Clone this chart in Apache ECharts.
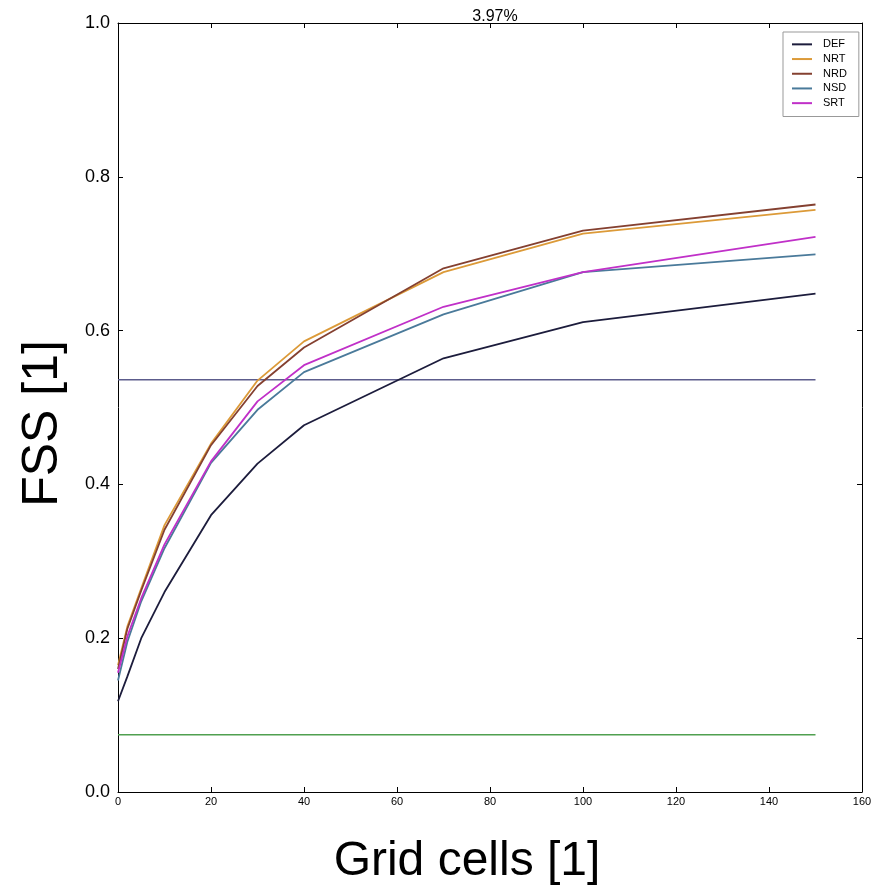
<!DOCTYPE html>
<html>
<head>
<meta charset="utf-8">
<script src="https://cdn.jsdelivr.net/npm/echarts@6/dist/echarts.min.js"></script>
<style>
html,body{margin:0;padding:0;background:#fff;}
#c{width:886px;height:885px;}
</style>
</head>
<body>
<div id="c"></div>
<script>
const gridCells = [0, 2, 5, 10, 20, 30, 40, 70, 100, 150];
const DEF = [0.118, 0.150, 0.200, 0.260, 0.360, 0.427, 0.477, 0.564, 0.611, 0.648];
const NRT = [0.165, 0.215, 0.265, 0.347, 0.453, 0.535, 0.586, 0.676, 0.726, 0.757];
const NRD = [0.160, 0.212, 0.262, 0.341, 0.451, 0.528, 0.578, 0.681, 0.730, 0.764];
const NSD = [0.145, 0.195, 0.248, 0.317, 0.428, 0.497, 0.546, 0.621, 0.676, 0.699];
const SRT = [0.155, 0.202, 0.252, 0.322, 0.430, 0.508, 0.555, 0.631, 0.676, 0.722];
const refLevels = [0.536, 0.0745];
const refRange = [0, 150];
const xTicks = [0, 20, 40, 60, 80, 100, 120, 140, 160];
const yTicks = [0.0, 0.2, 0.4, 0.6, 0.8, 1.0];
const titleText = '3.97%';

const names = ['DEF', 'NRT', 'NRD', 'NSD', 'SRT'];
const values = [DEF, NRT, NRD, NSD, SRT];
const colors = ['#1c1c3c', '#dc9a38', '#844030', '#4a7a9a', '#c030c8'];
const refColors = ['#5c5c8c', '#50a050'];

const series = names.map((n, i) => ({
  name: n, type: 'line', showSymbol: false, symbol: 'none',
  data: gridCells.map((x, j) => [x, values[i][j]]),
  lineStyle: { width: 1.8, color: colors[i] }, itemStyle: { color: colors[i] },
  z: 3 + i
}));
refLevels.forEach((v, i) => series.push({
  name: 'ref' + i, type: 'line', showSymbol: false, symbol: 'none',
  data: refRange.map(x => [x, v]),
  lineStyle: { width: 1.4, color: refColors[i] }, itemStyle: { color: refColors[i] },
  z: 2
}));

const chart = echarts.init(document.getElementById('c'), null, { renderer: 'canvas' });
const axisLine = { show: true, onZero: false, lineStyle: { color: '#000', width: 1 } };
chart.setOption({
  animation: false,
  backgroundColor: '#fff',
  title: {
    text: titleText, left: 490, top: 4, textAlign: 'center',
    textStyle: { fontFamily: 'Liberation Sans', fontSize: 16, fontWeight: 'normal', color: '#000' }
  },
  legend: {
    data: names, orient: 'vertical', left: 783, top: 32,
    icon: 'rect', itemWidth: 20, itemHeight: 2, itemGap: 0,
    padding: [5, 12, 6, 9],
    borderColor: '#999', borderWidth: 1, backgroundColor: '#fff',
    textStyle: { fontFamily: 'Liberation Sans', fontSize: 11, lineHeight: 14.7, color: '#000', padding: [0, 0, 0, 6] }
  },
  grid: { left: 118, right: 24, top: 23, bottom: 93, containLabel: false, outerBoundsMode: 'none' },
  xAxis: [{
    type: 'value', min: xTicks[0], max: xTicks[xTicks.length - 1], interval: xTicks[1] - xTicks[0],
    name: 'Grid cells [1]', nameLocation: 'middle', nameGap: 46,
    nameTextStyle: { fontFamily: 'Liberation Sans', fontSize: 48, color: '#000', padding: [0, 46, 0, 0] },
    axisLine: axisLine,
    axisTick: { show: true, inside: true, length: 5, lineStyle: { color: '#000' } },
    axisLabel: { fontFamily: 'Liberation Sans', fontSize: 11, color: '#000', margin: 4 },
    splitLine: { show: false }
  }, {
    type: 'value', position: 'top', min: xTicks[0], max: xTicks[xTicks.length - 1], interval: xTicks[1] - xTicks[0],
    axisLine: axisLine,
    axisTick: { show: true, inside: true, length: 5, lineStyle: { color: '#000' } },
    axisLabel: { show: false }, splitLine: { show: false }
  }],
  yAxis: [{
    type: 'value', min: yTicks[0], max: yTicks[yTicks.length - 1], interval: 0.2,
    name: 'FSS [1]', nameLocation: 'middle', nameGap: 50,
    nameTextStyle: { fontFamily: 'Liberation Sans', fontSize: 50, color: '#000', padding: [0, 32, 0, 0] },
    axisLine: axisLine,
    axisTick: { show: true, inside: true, length: 5, lineStyle: { color: '#000' } },
    axisLabel: { fontFamily: 'Liberation Sans', fontSize: 18, color: '#000', margin: 8,
      formatter: v => v.toFixed(1) },
    splitLine: { show: false }
  }, {
    type: 'value', position: 'right', min: yTicks[0], max: yTicks[yTicks.length - 1], interval: 0.2,
    axisLine: axisLine,
    axisTick: { show: true, inside: true, length: 5, lineStyle: { color: '#000' } },
    axisLabel: { show: false }, splitLine: { show: false }
  }],
  series: series
});
</script>
</body>
</html>
